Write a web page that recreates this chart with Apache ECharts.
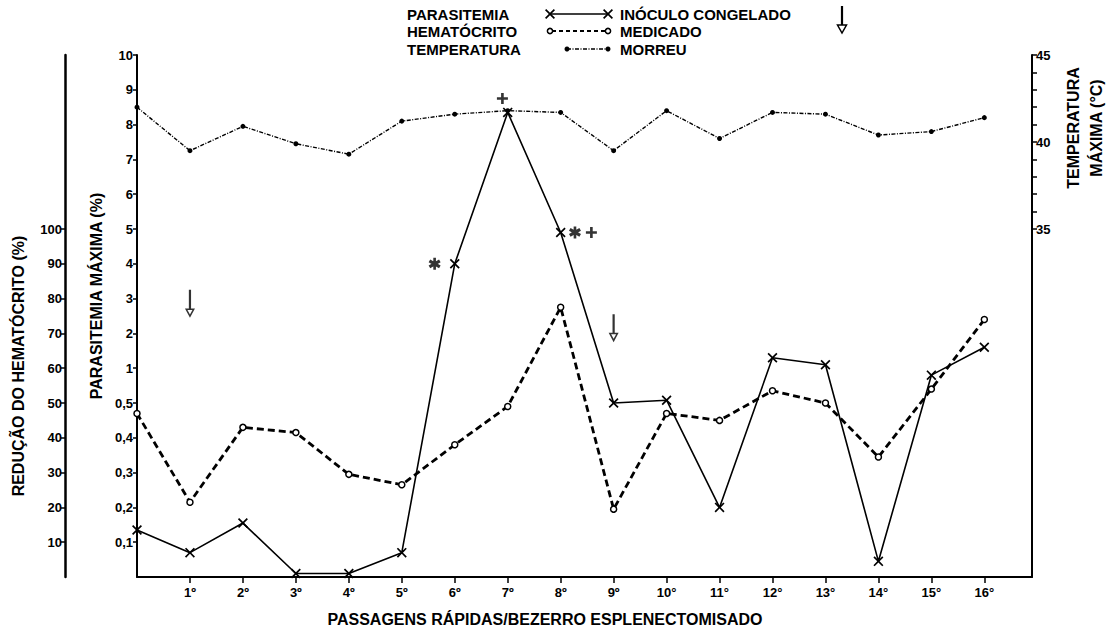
<!DOCTYPE html>
<html><head><meta charset="utf-8">
<script src="https://cdn.jsdelivr.net/npm/echarts@6/dist/echarts.min.js"></script>
<style>html,body{margin:0;padding:0;background:#fff}#c{width:1111px;height:636px}</style>
</head><body><div id="c"></div>
<script>
// ---------------- data ----------------
const passages = [0,1,2,3,4,5,6,7,8,9,10,11,12,13,14,15,16];
const passageLabels = ['1º','2º','3º','4º','5º','6º','7º','8º','9º','10°','11°','12°','13°','14°','15°','16°'];
const parasitemia = [0.135,0.07,0.155,0.01,0.01,0.07,4.0,8.35,4.9,0.5,0.54,0.2,1.3,1.1,0.045,0.9,1.6];
const hematocrit  = [47,21.5,43,41.5,29.5,26.5,38,49,77.5,19.5,47,45,53.5,50,34.5,54,74];
const temperature = [42.0,39.5,40.9,39.9,39.3,41.2,41.6,41.8,41.7,39.5,41.8,40.2,41.7,41.6,40.4,40.6,41.4];
const parasitemiaTicks = [0.1,0.2,0.3,0.4,0.5,1,2,3,4,5,6,7,8,9,10];
const parasitemiaTickLabels = ['0,1','0,2','0,3','0,4','0,5','1','2','3','4','5','6','7','8','9','10'];
const hematocritTicks = [10,20,30,40,50,60,70,80,90,100];
const temperatureTicks = [35,40,45];
const temperatureMinorTicks = [35,36,37,38,39,40,41,42,43,44,45];
const inoculoCongelado = [[1,2.85],[9,2.15]];      // arrows (passage, parasitemia level)
const medicado = [[5.62,4.0],[8.27,4.9]];           // asterisks
const morreu = [[6.9,8.75],[8.58,4.9]];             // crosses

// piecewise parasitemia scale (0–0.5 by 0.1, then 1–10 by 1), one unit per tick
function pIdx(v){ if(v<=0.5) return v*10; if(v<=1) return 5+(v-0.5)*2; return 5+v; }

const X_PATH='path://M0,1.2 L1.2,0 L5,3.8 L8.8,0 L10,1.2 L6.2,5 L10,8.8 L8.8,10 L5,6.2 L1.2,10 L0,8.8 L3.8,5 Z';
const ARROW_PATH='path://M3.9,0 L6.1,0 L6.1,20.6 L3.9,20.6 Z M0,20 L10,20 L5,30 Z M2.5,21.5 L5,26.4 L7.5,21.5 Z';
const AST_PATH='path://M3.9,0 L6.1,0 L6.1,10 L3.9,10 Z M1.33,1.37 L9.99,6.37 L8.67,8.63 L0.01,3.63 Z M0.01,6.37 L8.67,1.37 L9.99,3.63 L1.33,8.63 Z';
const PLUS_PATH='path://M3.8,0 L6.2,0 L6.2,3.8 L10,3.8 L10,6.2 L6.2,6.2 L6.2,10 L3.8,10 L3.8,6.2 L0,6.2 L0,3.8 L3.8,3.8 Z';

const FONT='"Liberation Sans", Arial, sans-serif';
const chart = echarts.init(document.getElementById('c'), null, {renderer:'svg'});
const axisTxt = {color:'#000', fontFamily:FONT, fontWeight:'bold', fontSize:13};

function txt(x,y,s,size,align,rot){
  return {type:'text', x:x, y:y, rotation:rot||0, silent:true,
    style:{text:s, fill:'#000', font:'bold '+size+'px '+FONT, textAlign:align||'left', textVerticalAlign:'middle'}};
}
function xMark(cx,cy){
  const p=[[0,1.2],[1.2,0],[5,3.8],[8.8,0],[10,1.2],[6.2,5],[10,8.8],[8.8,10],[5,6.2],[1.2,10],[0,8.8],[3.8,5]];
  return {type:'polygon', silent:true, shape:{points:p.map(q=>[cx-5+q[0],cy-5+q[1]])}, style:{fill:'#000'}};
}

const option = {
  animation:false,
  backgroundColor:'#fff',
  grid:{left:137, right:79, top:55, bottom:59},
  xAxis:{
    type:'value', min:0, max:16.9,
    axisLine:{show:true, lineStyle:{color:'#000', width:2}},
    axisTick:{show:true, customValues:passages.slice(1), length:6, lineStyle:{color:'#000', width:1.5}},
    axisLabel:Object.assign({customValues:passages.slice(1), margin:9, formatter:v=>passageLabels[Math.round(v)-1]}, axisTxt),
    splitLine:{show:false}
  },
  yAxis:[
    { type:'value', min:0, max:15, position:'left',
      axisLine:{show:true, lineStyle:{color:'#000', width:2}},
      axisTick:{show:true, customValues:parasitemiaTicks.map(pIdx), length:4, lineStyle:{color:'#000', width:1.5}},
      axisLabel:Object.assign({customValues:parasitemiaTicks.map(pIdx), margin:4,
        formatter:v=>{const i=parasitemiaTicks.findIndex(t=>Math.abs(pIdx(t)-v)<1e-6); return i>=0?parasitemiaTickLabels[i]:'';}}, axisTxt),
      splitLine:{show:false}
    },
    { type:'value', min:0, max:150, position:'left', offset:72,
      axisLine:{show:true, lineStyle:{color:'#000', width:2.5}},
      axisTick:{show:true, customValues:hematocritTicks, length:4, lineStyle:{color:'#000', width:1.5}},
      axisLabel:Object.assign({customValues:hematocritTicks, margin:3}, axisTxt),
      splitLine:{show:false}
    },
    { type:'value', min:15, max:45, position:'right',
      axisLine:{show:true, lineStyle:{color:'#000', width:2}},
      axisTick:{show:true, customValues:temperatureMinorTicks, length:5, lineStyle:{color:'#000', width:1.5}},
      axisLabel:Object.assign({customValues:temperatureTicks, margin:4}, axisTxt),
      splitLine:{show:false}
    }
  ],
  series:[
    { name:'Parasitemia', type:'line', yAxisIndex:0,
      data:passages.map((p,i)=>[p,pIdx(parasitemia[i])]),
      symbol:X_PATH, symbolSize:10, itemStyle:{color:'#000'},
      lineStyle:{color:'#000', width:1.6}, z:5 },
    { name:'Hematócrito', type:'line', yAxisIndex:1,
      data:passages.map((p,i)=>[p,hematocrit[i]]),
      symbol:'circle', symbolSize:6, itemStyle:{color:'#fff', borderColor:'#000', borderWidth:1.5},
      lineStyle:{color:'#000', width:2.8, type:[7,4]}, z:4 },
    { name:'Temperatura', type:'line', yAxisIndex:2,
      data:passages.map((p,i)=>[p,temperature[i]]),
      symbol:'circle', symbolSize:5, itemStyle:{color:'#000'},
      lineStyle:{color:'#000', width:1.4, type:[4,1.5,1,1.5]}, z:4 },
    { name:'Inóculo congelado', type:'scatter', yAxisIndex:0,
      data:inoculoCongelado.map(d=>[d[0],pIdx(d[1])]),
      symbol:ARROW_PATH, symbolSize:[10,28], itemStyle:{color:'#000'} },
    { name:'Medicado', type:'scatter', yAxisIndex:0,
      data:medicado.map(d=>[d[0],pIdx(d[1])]),
      symbol:AST_PATH, symbolSize:12, itemStyle:{color:'#000'} },
    { name:'Morreu', type:'scatter', yAxisIndex:0,
      data:morreu.map(d=>[d[0],pIdx(d[1])]),
      symbol:PLUS_PATH, symbolSize:11, itemStyle:{color:'#000'} }
  ],
  graphic:[
    txt(407,14,'PARASITEMIA',15), txt(620,14,'INÓCULO CONGELADO',15),
    txt(407,31,'HEMATÓCRITO',15), txt(620,31,'MEDICADO',15),
    txt(407,49,'TEMPERATURA',15), txt(620,49,'MORREU',15),
    {type:'line', silent:true, shape:{x1:550,y1:14,x2:608,y2:14}, style:{stroke:'#000', lineWidth:1.6}},
    xMark(550,14), xMark(608,14),
    {type:'line', silent:true, shape:{x1:552,y1:31,x2:606,y2:31}, style:{stroke:'#000', lineWidth:2.2, lineDash:[4,3]}},
    {type:'circle', silent:true, shape:{cx:550,cy:31,r:2.6}, style:{fill:'#fff', stroke:'#000', lineWidth:1.5}},
    {type:'circle', silent:true, shape:{cx:608,cy:31,r:2.6}, style:{fill:'#fff', stroke:'#000', lineWidth:1.5}},
    {type:'line', silent:true, shape:{x1:567,y1:49,x2:607,y2:49}, style:{stroke:'#000', lineWidth:1.4, lineDash:[4,1.5,1,1.5]}},
    {type:'circle', silent:true, shape:{cx:567,cy:49,r:2.5}, style:{fill:'#000'}},
    {type:'circle', silent:true, shape:{cx:608,cy:49,r:2.5}, style:{fill:'#000'}},
    {type:'line', silent:true, shape:{x1:842,y1:6,x2:842,y2:26}, style:{stroke:'#000', lineWidth:2.2}},
    {type:'polygon', silent:true, shape:{points:[[837.5,25],[846.5,25],[842,33]]}, style:{fill:'#fff', stroke:'#000', lineWidth:1.5}},
    txt(18,366,'REDUÇÃO DO HEMATÓCRITO (%)',16,'center',Math.PI/2),
    txt(96,296,'PARASITEMIA MÁXIMA (%)',16,'center',Math.PI/2),
    txt(1073,128,'TEMPERATURA',16,'center',Math.PI/2),
    txt(1096,128,'MÁXIMA (°C)',16,'center',Math.PI/2),
    txt(545,619,'PASSAGENS RÁPIDAS/BEZERRO ESPLENECTOMISADO',16,'center')
  ]
};
chart.setOption(option);
</script></body></html>
